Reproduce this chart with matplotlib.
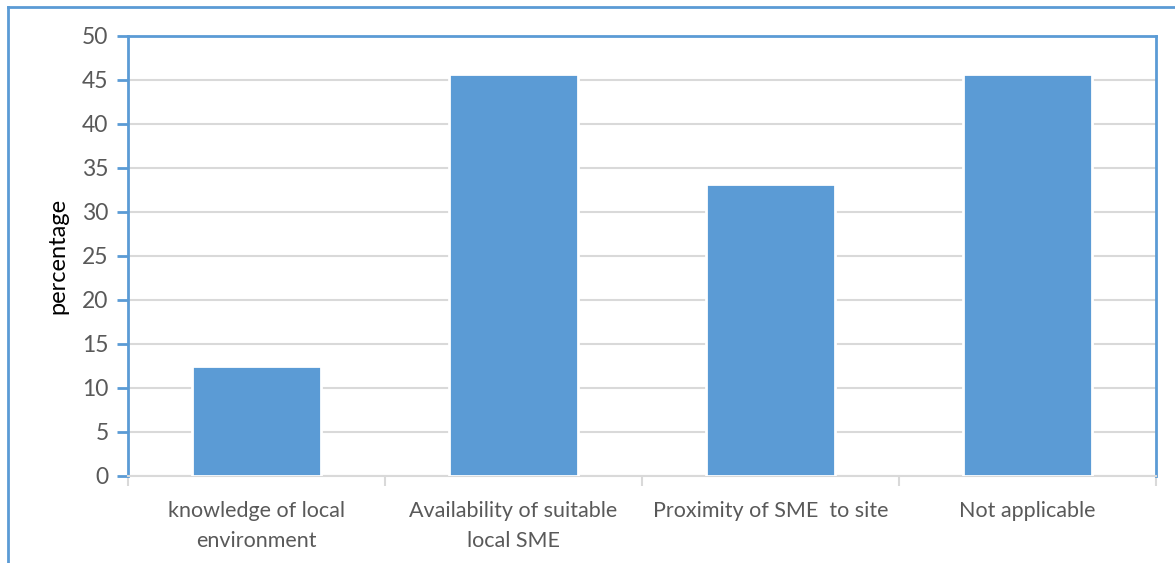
import matplotlib
matplotlib.use("Agg")
import matplotlib.pyplot as plt
from matplotlib.lines import Line2D

categories = ["knowledge of local\nenvironment", "Availability of suitable\nlocal SME",
              "Proximity of SME  to site", "Not applicable"]
values = [12.5, 45.7, 33.2, 45.7]
yticks = [0, 5, 10, 15, 20, 25, 30, 35, 40, 45, 50]

W, H = 1175, 563
fig = plt.figure(figsize=(W / 100, H / 100), dpi=100)
plt.rcParams['font.family'] = ['Lato', 'DejaVu Sans']

left, right, top, bottom = 128, 1156, 36, 476
ax = fig.add_axes([left / W, 1 - bottom / H, (right - left) / W, (bottom - top) / H])

blue = "#5b9bd5"
text_c = "#595959"
x = list(range(len(categories)))
ax.bar(x, values, width=0.505, color=blue, edgecolor="white", linewidth=2, zorder=3)
ax.set_xlim(-0.5, len(categories) - 0.5)
ax.set_ylim(0, 50)
ax.set_yticks(yticks)
ax.set_yticklabels([str(t) for t in yticks], fontsize=16.5, color=text_c)
ax.yaxis.grid(True, color="#d9d9d9", linewidth=1.5, zorder=0)
ax.set_axisbelow(True)

ax.set_xticks(x)
ax.set_xticklabels(categories, fontsize=15.5, color=text_c, linespacing=1.65)
ax.tick_params(axis='x', length=0, pad=18)
ax.set_xticks([i - 0.5 for i in range(len(categories) + 1)], minor=True)
ax.tick_params(axis='x', which='minor', length=7, color="#d9d9d9", width=1.5)
ax.tick_params(axis='y', length=8, color=blue, width=2, pad=6)

for s in ['left', 'top', 'right']:
    ax.spines[s].set_color(blue)
    ax.spines[s].set_linewidth(2)
ax.spines['bottom'].set_color("#d9d9d9")
ax.spines['bottom'].set_linewidth(1.5)

ax.set_ylabel("percentage", fontsize=17, color="black", labelpad=10)

# outer chart border
fig.add_artist(Line2D([8 / W, 8 / W], [0, 1 - 7 / H], transform=fig.transFigure, color=blue, linewidth=2))
fig.add_artist(Line2D([8 / W, 1], [1 - 7 / H, 1 - 7 / H], transform=fig.transFigure, color=blue, linewidth=2))

fig.savefig("out.png", dpi=100, facecolor="white")
